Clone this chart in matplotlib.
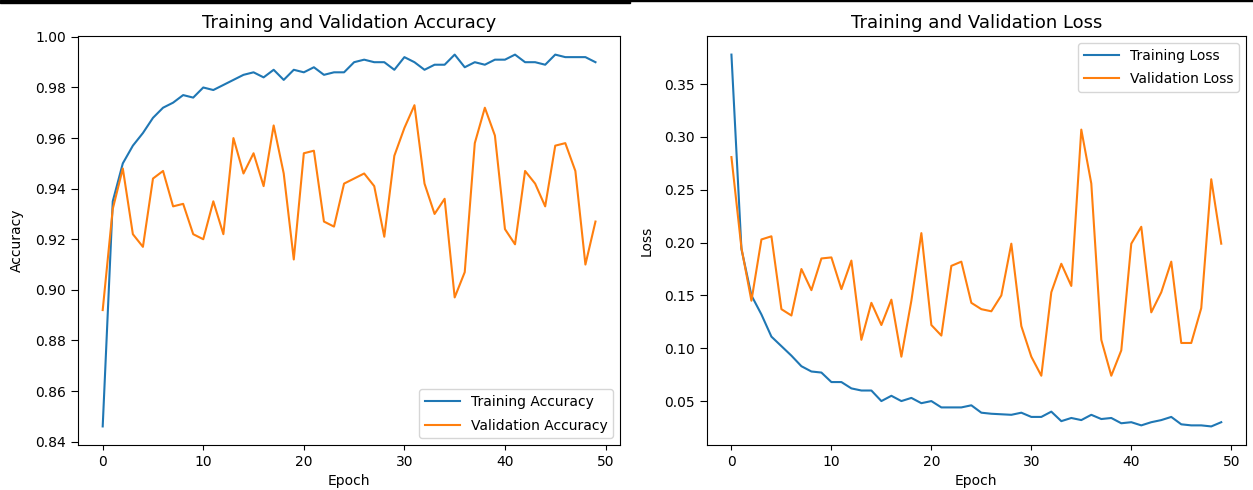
import matplotlib
matplotlib.use('Agg')
import matplotlib.pyplot as plt
from matplotlib.patches import Rectangle

# training history
epochs = list(range(50))

train_acc = [0.846, 0.935, 0.950, 0.957, 0.962, 0.968, 0.972, 0.974, 0.977, 0.976,
             0.980, 0.979, 0.981, 0.983, 0.985, 0.986, 0.984, 0.987, 0.983, 0.987,
             0.986, 0.988, 0.985, 0.986, 0.986, 0.990, 0.991, 0.990, 0.990, 0.987,
             0.992, 0.990, 0.987, 0.989, 0.989, 0.993, 0.988, 0.990, 0.989, 0.991,
             0.991, 0.993, 0.990, 0.990, 0.989, 0.993, 0.992, 0.992, 0.992, 0.990]
val_acc = [0.892, 0.932, 0.948, 0.922, 0.917, 0.944, 0.947, 0.933, 0.934, 0.922,
           0.920, 0.935, 0.922, 0.960, 0.946, 0.954, 0.941, 0.965, 0.946, 0.912,
           0.954, 0.955, 0.927, 0.925, 0.942, 0.944, 0.946, 0.941, 0.921, 0.953,
           0.964, 0.973, 0.942, 0.930, 0.936, 0.897, 0.907, 0.958, 0.972, 0.961,
           0.924, 0.918, 0.947, 0.942, 0.933, 0.957, 0.958, 0.947, 0.910, 0.927]

train_loss = [0.378, 0.194, 0.150, 0.132, 0.111, 0.102, 0.093, 0.083, 0.078, 0.077,
              0.068, 0.068, 0.062, 0.060, 0.060, 0.050, 0.055, 0.050, 0.053, 0.048,
              0.050, 0.044, 0.044, 0.044, 0.046, 0.039, 0.038, 0.0375, 0.037, 0.039,
              0.035, 0.035, 0.040, 0.031, 0.034, 0.032, 0.037, 0.033, 0.034, 0.029,
              0.030, 0.027, 0.030, 0.032, 0.035, 0.028, 0.027, 0.027, 0.026, 0.030]
val_loss = [0.281, 0.195, 0.145, 0.203, 0.206, 0.137, 0.131, 0.175, 0.155, 0.185,
            0.186, 0.156, 0.183, 0.108, 0.143, 0.122, 0.146, 0.092, 0.145, 0.209,
            0.122, 0.112, 0.178, 0.182, 0.143, 0.137, 0.135, 0.150, 0.199, 0.121,
            0.092, 0.074, 0.153, 0.180, 0.159, 0.307, 0.256, 0.108, 0.074, 0.098,
            0.199, 0.215, 0.134, 0.153, 0.182, 0.105, 0.105, 0.138, 0.260, 0.199]

fig = plt.figure(figsize=(12.53, 4.9), dpi=100)

legend_kw = dict(handlelength=2.5, labelspacing=0.7)

# accuracy
ax1 = fig.add_axes([0.0623, 0.0918, 0.4326, 0.8347])
ax1.plot(epochs, train_acc, label='Training Accuracy')
ax1.plot(epochs, val_acc, label='Validation Accuracy')
ax1.set_title('Training and Validation Accuracy', fontsize=13)
ax1.set_xlabel('Epoch')
ax1.set_ylabel('Accuracy', labelpad=8)
ax1.tick_params(axis='y', length=5)
ax1.legend(loc='lower right', **legend_kw)

# loss
ax2 = fig.add_axes([0.5642, 0.0918, 0.4300, 0.8347])
ax2.plot(epochs, train_loss, label='Training Loss')
ax2.plot(epochs, val_loss, label='Validation Loss')
ax2.set_title('Training and Validation Loss', fontsize=13)
ax2.set_xlabel('Epoch')
ax2.set_ylabel('Loss', labelpad=8)
ax2.tick_params(axis='y', length=5)
ax2.legend(loc='upper right', **legend_kw)

# dark strip along the top edge of the screenshot
fig.patches.append(Rectangle((0, 1 - 3 / 490), 630 / 1253, 3 / 490,
                             transform=fig.transFigure, color='black', zorder=10))
fig.patches.append(Rectangle((630 / 1253, 1 - 1.5 / 490), 1 - 630 / 1253, 1.5 / 490,
                             transform=fig.transFigure, color='black', zorder=10))

fig.savefig('out.png', dpi=100)
